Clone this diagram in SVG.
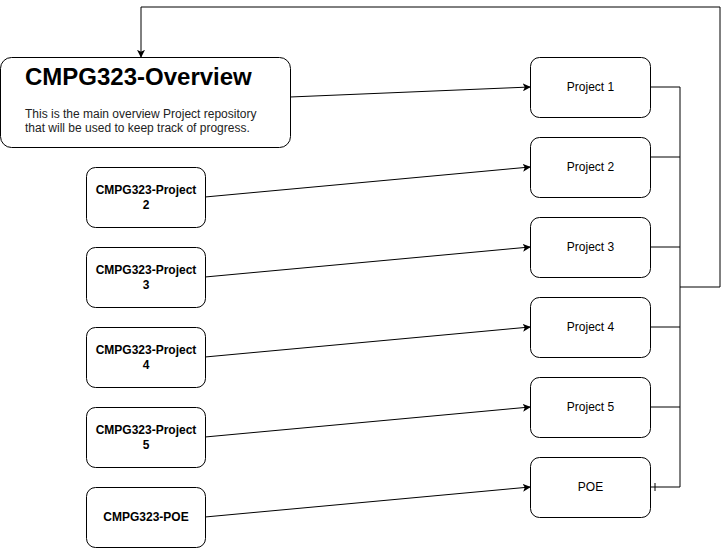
<svg xmlns="http://www.w3.org/2000/svg" width="722" height="548" viewBox="0 0 722 548">
<style>
.box{fill:#fff;stroke:#000;stroke-width:1}
.lbl{font-family:"Liberation Sans",Arial,sans-serif;font-size:12px;fill:#000;text-anchor:middle}
.b{font-weight:bold}
.ln{fill:none;stroke:#000;stroke-width:1}
.ov{font-family:"Liberation Sans",Arial,sans-serif}
</style>
<defs>
<marker id="arr" viewBox="0 0 10 10" refX="9" refY="5" markerWidth="8" markerHeight="8" markerUnits="userSpaceOnUse" orient="auto">
<path d="M0,0 L10,5 L0,10 L2.5,5 Z" fill="#000"/>
</marker>
</defs>
<rect width="722" height="548" fill="#fff"/>
<g id="connectors">
<path class="ln" d="M290,97 L530,87" marker-end="url(#arr)"/>
<path class="ln" d="M205,197 L530,167" marker-end="url(#arr)"/>
<path class="ln" d="M205,277 L530,247" marker-end="url(#arr)"/>
<path class="ln" d="M205,357 L530,327" marker-end="url(#arr)"/>
<path class="ln" d="M205,437 L530,407" marker-end="url(#arr)"/>
<path class="ln" d="M205,517 L530,487" marker-end="url(#arr)"/>
<path class="ln" d="M650,87 H680 M650,157 H680 M650,247 H680 M650,327 H680 M650,407 H680 M650,487 H680 M680,87 V487"/>
<path class="ln" d="M655,483 V491"/>
<path class="ln" d="M680,287 H720 V7 H141 V57" marker-end="url(#arr)"/>
</g>
<g id="overview">
<rect class="box" x="0.5" y="57.5" width="290" height="90" rx="11"/>
<text class="ov" x="25" y="85" font-size="24" font-weight="bold">CMPG323-Overview</text>
<text class="ov" x="25" y="118" font-size="12" fill="#222">This is the main overview Project repository</text>
<text class="ov" x="25" y="132" font-size="12" fill="#222">that will be used to keep track of progress.</text>
</g>
<g id="project1"><rect class="box" x="530.5" y="57.5" width="120" height="60" rx="9"/><text class="lbl" x="590.5" y="91">Project 1</text></g>
<g id="project2"><rect class="box" x="530.5" y="137.5" width="120" height="60" rx="9"/><text class="lbl" x="590.5" y="171">Project 2</text></g>
<g id="project3"><rect class="box" x="530.5" y="217.5" width="120" height="60" rx="9"/><text class="lbl" x="590.5" y="251">Project 3</text></g>
<g id="project4"><rect class="box" x="530.5" y="297.5" width="120" height="60" rx="9"/><text class="lbl" x="590.5" y="331">Project 4</text></g>
<g id="project5"><rect class="box" x="530.5" y="377.5" width="120" height="60" rx="9"/><text class="lbl" x="590.5" y="411">Project 5</text></g>
<g id="poe"><rect class="box" x="530.5" y="457.5" width="120" height="60" rx="9"/><text class="lbl" x="590.5" y="491">POE</text></g>
<g id="cmpg-project2"><rect class="box" x="86.5" y="167.5" width="119" height="60" rx="9"/><text class="lbl b" x="146" y="194">CMPG323-Project</text><text class="lbl b" x="146" y="209">2</text></g>
<g id="cmpg-project3"><rect class="box" x="86.5" y="247.5" width="119" height="60" rx="9"/><text class="lbl b" x="146" y="274">CMPG323-Project</text><text class="lbl b" x="146" y="289">3</text></g>
<g id="cmpg-project4"><rect class="box" x="86.5" y="327.5" width="119" height="60" rx="9"/><text class="lbl b" x="146" y="354">CMPG323-Project</text><text class="lbl b" x="146" y="369">4</text></g>
<g id="cmpg-project5"><rect class="box" x="86.5" y="407.5" width="119" height="60" rx="9"/><text class="lbl b" x="146" y="434">CMPG323-Project</text><text class="lbl b" x="146" y="449">5</text></g>
<g id="cmpg-poe"><rect class="box" x="86.5" y="487.5" width="119" height="60" rx="9"/><text class="lbl b" x="146" y="521">CMPG323-POE</text></g>
</svg>
